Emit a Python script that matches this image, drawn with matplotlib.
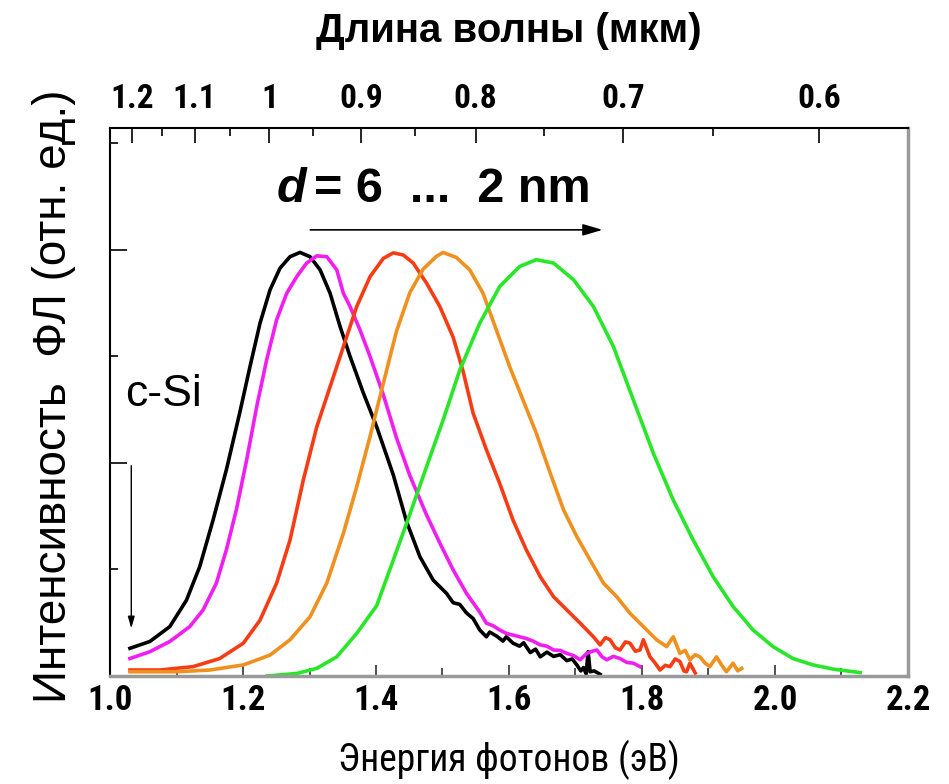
import numpy as np
import matplotlib
matplotlib.use('Agg')
import matplotlib.pyplot as plt

# photon energy (eV) vs normalized PL intensity
black_x = [1.030, 1.060, 1.090, 1.115, 1.135, 1.155, 1.175, 1.195, 1.2105, 1.2256, 1.2406, 1.2556,
           1.2707, 1.2857, 1.3008, 1.316, 1.331, 1.346, 1.361, 1.381, 1.401, 1.426, 1.446, 1.466,
           1.486, 1.506, 1.516, 1.526, 1.536, 1.546, 1.556, 1.566, 1.571, 1.581, 1.591, 1.596, 1.606,
           1.616, 1.622, 1.632, 1.640, 1.647, 1.657, 1.667, 1.677, 1.687, 1.695, 1.702, 1.708, 1.712,
           1.716, 1.719, 1.722, 1.728, 1.737]
black_y = [0.065, 0.081, 0.116, 0.178, 0.257, 0.366, 0.484, 0.617, 0.726, 0.828, 0.906, 0.957,
           0.984, 0.994, 0.984, 0.953, 0.898, 0.820, 0.750, 0.664, 0.585, 0.472, 0.362, 0.280,
           0.225, 0.194, 0.172, 0.168, 0.148, 0.135, 0.108, 0.092, 0.103, 0.094, 0.082, 0.092, 0.077,
           0.070, 0.078, 0.055, 0.063, 0.045, 0.056, 0.046, 0.050, 0.036, 0.040, 0.026, 0.012, 0.020,
           0.005, 0.057, 0.010, 0.012, 0.004]

magenta_x = [1.030, 1.060, 1.090, 1.120, 1.140, 1.160, 1.175, 1.190, 1.2055, 1.2206, 1.2356, 1.2506,
             1.2657, 1.2807, 1.2957, 1.311, 1.326, 1.341, 1.351, 1.361, 1.376, 1.391, 1.411, 1.431,
             1.451, 1.476, 1.496, 1.516, 1.536, 1.556, 1.566, 1.576, 1.586, 1.596, 1.606, 1.616, 1.626,
             1.636, 1.647, 1.657, 1.667, 1.677, 1.687, 1.697, 1.707, 1.717, 1.725, 1.732, 1.740, 1.747,
             1.757, 1.767, 1.777, 1.787, 1.797]
magenta_y = [0.041, 0.057, 0.081, 0.116, 0.155, 0.218, 0.296, 0.390, 0.507, 0.632, 0.742, 0.836,
             0.898, 0.937, 0.969, 0.986, 0.984, 0.953, 0.898, 0.867, 0.812, 0.750, 0.660, 0.558,
             0.470, 0.378, 0.312, 0.249, 0.194, 0.150, 0.124, 0.118, 0.108, 0.100, 0.096, 0.092, 0.088,
             0.082, 0.073, 0.070, 0.061, 0.060, 0.053, 0.048, 0.038, 0.053, 0.058, 0.061, 0.045, 0.038,
             0.046, 0.041, 0.032, 0.030, 0.022]

red_x = [1.030, 1.075, 1.125, 1.165, 1.2005, 1.2256, 1.2506, 1.2707, 1.2907, 1.311, 1.331, 1.351,
         1.371, 1.391, 1.411, 1.426, 1.441, 1.456, 1.476, 1.496, 1.516, 1.531, 1.546, 1.566, 1.586,
         1.606, 1.626, 1.647, 1.667, 1.687, 1.707, 1.727, 1.737, 1.745, 1.752, 1.760, 1.767, 1.775,
         1.782, 1.790, 1.797, 1.802, 1.812, 1.820, 1.827, 1.835, 1.842, 1.850, 1.857, 1.863, 1.867,
         1.872, 1.880]
red_y = [0.014, 0.014, 0.022, 0.041, 0.077, 0.131, 0.218, 0.319, 0.460, 0.585, 0.679, 0.773,
         0.867, 0.937, 0.980, 0.993, 0.988, 0.969, 0.922, 0.867, 0.795, 0.715, 0.617, 0.531, 0.452,
         0.366, 0.296, 0.233, 0.186, 0.155, 0.124, 0.092, 0.073, 0.090, 0.085, 0.066, 0.061, 0.080,
         0.077, 0.058, 0.061, 0.085, 0.045, 0.030, 0.014, 0.025, 0.022, 0.040, 0.034, 0.012, 0.010,
         0.030, 0.007]

orange_x = [1.030, 1.100, 1.150, 1.2005, 1.2406, 1.2707, 1.3008, 1.326, 1.351, 1.371, 1.391, 1.411,
            1.431, 1.451, 1.471, 1.491, 1.501, 1.521, 1.541, 1.561, 1.581, 1.601, 1.621, 1.641,
            1.662, 1.682, 1.702, 1.722, 1.742, 1.762, 1.782, 1.802, 1.822, 1.837, 1.847, 1.857,
            1.865, 1.872, 1.880, 1.887, 1.895, 1.902, 1.912, 1.920, 1.927, 1.937, 1.944, 1.950]
orange_y = [0.010, 0.010, 0.014, 0.026, 0.049, 0.085, 0.139, 0.218, 0.335, 0.444, 0.562, 0.687,
            0.810, 0.900, 0.955, 0.985, 0.994, 0.982, 0.953, 0.898, 0.812, 0.726, 0.648, 0.570,
            0.476, 0.390, 0.327, 0.272, 0.218, 0.186, 0.147, 0.116, 0.085, 0.069, 0.092, 0.053,
            0.060, 0.038, 0.050, 0.045, 0.030, 0.022, 0.045, 0.025, 0.010, 0.030, 0.012, 0.018]

green_x = [1.236, 1.281, 1.311, 1.341, 1.371, 1.401, 1.426, 1.451, 1.476, 1.501, 1.526, 1.556,
           1.586, 1.616, 1.641, 1.667, 1.697, 1.727, 1.757, 1.787, 1.817, 1.847, 1.877, 1.907,
           1.937, 1.967, 1.997, 2.027, 2.057, 2.088, 2.128]
green_y = [0.000, 0.006, 0.018, 0.045, 0.100, 0.165, 0.272, 0.380, 0.491, 0.601, 0.718, 0.828,
           0.914, 0.961, 0.977, 0.969, 0.930, 0.867, 0.773, 0.648, 0.523, 0.413, 0.319, 0.233,
           0.163, 0.108, 0.069, 0.041, 0.026, 0.016, 0.008]

series = [
    (black_x, black_y, '#000000'),
    (magenta_x, magenta_y, '#f01ef0'),
    (red_x, red_y, '#f53c14'),
    (orange_x, orange_y, '#f0901e'),
    (green_x, green_y, '#28e628'),
]

# wavelength ticks on the top axis (um)
wl_major = [1.2, 1.1, 1.0, 0.9, 0.8, 0.7, 0.6]
wl_major_labels = ['1.2', '1.1', '1', '0.9', '0.8', '0.7', '0.6']
wl_minor = [1.15, 1.05, 0.95, 0.85, 0.75, 0.65]
energy_ticks = [1.0, 1.2, 1.4, 1.6, 1.8, 2.0, 2.2]

narrow = ['Roboto Condensed', 'DejaVu Sans']
arial = ['Liberation Sans', 'DejaVu Sans']

fig = plt.figure(figsize=(9.49, 7.84), dpi=100, facecolor='white')
ax = fig.add_axes([110 / 949, 1 - 676 / 784, 798 / 949, 548 / 784])

for x, y, c in series:
    ax.plot(x, y, color=c, lw=2.6, solid_joinstyle='round')

ax.set_xlim(1.0, 2.2)
ax.set_ylim(0, 1.286)

ax.set_xticks(energy_ticks)
ax.set_xticklabels(['%.1f' % e for e in energy_ticks], fontsize=25, fontweight='bold', family=narrow)
ax.set_xticks(np.arange(1.1, 2.2, 0.2), minor=True)
ax.set_yticks([0.5, 1.0])
ax.set_yticks([0.25, 0.75, 1.25], minor=True)
ax.set_yticklabels([])
ax.tick_params(axis='x', which='major', direction='in', length=8, width=1.2, pad=6, color='#333333')
ax.tick_params(axis='x', which='minor', direction='in', length=6, width=1.2, color='#333333')
ax.tick_params(axis='y', which='major', direction='in', length=12, width=1.2)
ax.tick_params(axis='y', which='minor', direction='in', length=6, width=1.2)

ax.spines['left'].set_linewidth(1.5)
ax.spines['top'].set_linewidth(1.5)
ax.spines['bottom'].set_color('#9a9a9a')
ax.spines['bottom'].set_linewidth(2.5)
ax.spines['right'].set_color('#9a9a9a')
ax.spines['right'].set_linewidth(2.5)

ax.set_xlabel('Энергия фотонов (эВ)', fontsize=27, family=narrow, labelpad=16)
ax.set_ylabel('Интенсивность  ФЛ (отн. ед.)', fontsize=33, family=arial)
ax.yaxis.set_label_coords(-0.042, 0.51)

# top axis in wavelength, E = 1.2398 / lambda
ax2 = ax.twiny()
ax2.set_xlim(ax.get_xlim())
ax2.set_xticks([1.2398 / w for w in wl_major])
ax2.set_xticklabels(wl_major_labels, fontsize=24, fontweight='bold', family=narrow)
ax2.set_xticks([1.2398 / w for w in wl_minor], minor=True)
ax2.tick_params(axis='x', which='major', direction='in', length=11, width=1.2, pad=9)
ax2.tick_params(axis='x', which='minor', direction='in', length=6, width=1.2)
for s in ax2.spines.values():
    s.set_visible(False)
ax2.set_xlabel('Длина волны (мкм)', fontsize=29, fontweight='bold', family=arial, labelpad=30)

ax.annotate('', xy=(1.745, 1.047), xytext=(1.297, 1.047),
            arrowprops=dict(arrowstyle='-|>,head_length=1.2,head_width=0.35', color='black', lw=1.2))
ax.text(1.250, 1.141, 'd', fontsize=35, fontweight='bold', style='italic',
        family=arial, va='center', ha='left')
ax.text(1.307, 1.141, '= 6  ...  2 nm', fontsize=35, fontweight='bold',
        family=arial, va='center', ha='left')

ax.text(1.022, 0.66, 'c-Si', fontsize=32, family=arial, va='center', ha='left')
ax.annotate('', xy=(1.032, 0.105), xytext=(1.032, 0.5),
            arrowprops=dict(arrowstyle='-|>,head_length=0.7,head_width=0.2', color='black', lw=1.0))

plt.savefig('out.png', dpi=100, facecolor=fig.get_facecolor())
